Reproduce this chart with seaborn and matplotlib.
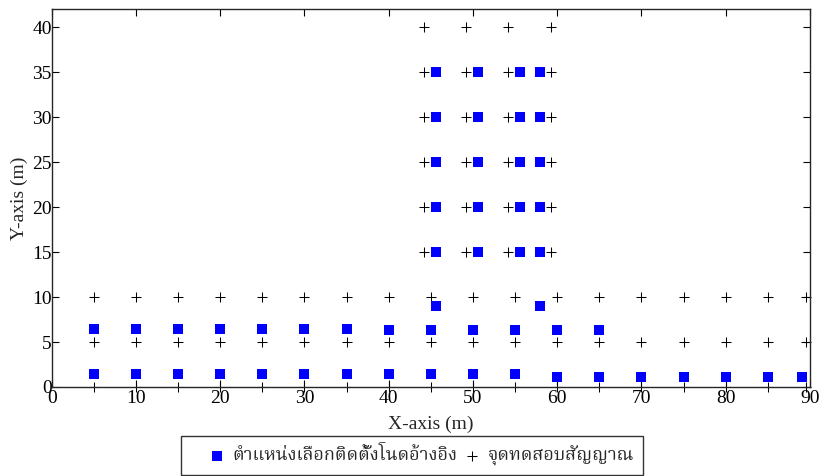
import matplotlib
matplotlib.use("Agg")
import matplotlib.pyplot as plt
import seaborn as sns
import pandas as pd
from matplotlib import font_manager

# ---------------- data ----------------
# selected reference-node positions (blue squares)
node_x = [5, 10, 15, 20, 25, 30, 35, 40, 45, 50, 55,
          60, 65, 70, 75, 80, 85, 89,
          5, 10, 15, 20, 25, 30, 35, 40, 45, 50, 55, 60, 65,
          45.6, 58.0,
          45.6, 50.6, 55.6, 58.0,
          45.6, 50.6, 55.6, 58.0,
          45.6, 50.6, 55.6, 58.0,
          45.6, 50.6, 55.6, 58.0,
          45.6, 50.6, 55.6, 58.0]
node_y = [1.4, 1.4, 1.4, 1.4, 1.4, 1.4, 1.4, 1.4, 1.4, 1.4, 1.4,
          1.1, 1.1, 1.1, 1.1, 1.1, 1.1, 1.1,
          6.4, 6.4, 6.4, 6.4, 6.4, 6.4, 6.4, 6.3, 6.3, 6.3, 6.3, 6.3, 6.3,
          9.0, 9.0,
          15, 15, 15, 15,
          20, 20, 20, 20,
          25, 25, 25, 25,
          30, 30, 30, 30,
          35, 35, 35, 35]

# signal test points (plus markers)
row_x = [5, 10, 15, 20, 25, 30, 35, 40, 45, 50, 55, 60, 65, 70, 75, 80, 85, 89.5]
row_y = [0, 5, 10]
col_x = [44.2, 49.2, 54.2, 59.3]
col_y = [15, 20, 25, 30, 35, 40]

test_x = [x for y in row_y for x in row_x] + [x for y in col_y for x in col_x]
test_y = [y for y in row_y for x in row_x] + [y for y in col_y for x in col_x]

label_nodes = "ตำแหน่งเลือกติดตั้งโนดอ้างอิง"
label_test = "จุดทดสอบสัญญาณ"
x_ticks = [0, 10, 20, 30, 40, 50, 60, 70, 80, 90]
y_ticks = [0, 5, 10, 15, 20, 25, 30, 35, 40]

nodes = pd.DataFrame({"x": node_x, "y": node_y})
tests = pd.DataFrame({"x": test_x, "y": test_y})

# ---------------- fonts ----------------
sns.set_style("ticks")

def find_thai_font():
    try:
        from fontTools.ttLib import TTFont
    except Exception:
        return None
    best = None
    for f in font_manager.fontManager.ttflist:
        try:
            tt = TTFont(f.fname, fontNumber=0, lazy=True)
            cmap = tt.getBestCmap()
            if cmap and ord("ต") in cmap and ord("ญ") in cmap:
                name = f.name
                if best is None or "Serif" in name:
                    best = name
        except Exception:
            continue
    return best

thai = find_thai_font()
fam = ["Liberation Serif"] + ([thai] if thai else []) + ["DejaVu Sans"]
plt.rcParams["font.family"] = fam

fig = plt.figure(figsize=(8.27, 4.76), dpi=100)
ax = fig.add_axes([0.0625, 0.187, 0.9169, 0.7935])

sns.scatterplot(data=tests, x="x", y="y", marker="+", color="black",
                s=45, linewidth=0.75, ax=ax, label=label_test, zorder=2,
                clip_on=False)
sns.scatterplot(data=nodes, x="x", y="y", marker="s", color="#0000ff",
                s=45, linewidth=0, ax=ax, label=label_nodes, zorder=3)

ax.set_xlim(0, 90)
ax.set_ylim(0, 42)
ax.set_xticks(x_ticks)
ax.set_yticks(y_ticks)
ax.tick_params(direction="in", top=True, right=True, length=5, width=0.8,
               labelsize=14, colors="black")
ax.tick_params(axis="x", pad=2.5)
ax.tick_params(axis="y", pad=0)
for sp in ax.spines.values():
    sp.set_linewidth(1.0)
    sp.set_visible(True)
ax.set_xlabel("X-axis (m)", fontsize=14, labelpad=6)
ax.set_ylabel("Y-axis (m)", fontsize=14, labelpad=3)

ax.get_legend().remove()
h, l = ax.get_legend_handles_labels()
order = [l.index(label_nodes), l.index(label_test)]
leg = fig.legend([h[i] for i in order], [l[i] for i in order],
                 loc="center", bbox_to_anchor=(0.498, 0.043), ncol=2,
                 frameon=True, fancybox=False, edgecolor="black",
                 fontsize=13, handletextpad=-0.6, columnspacing=-0.75,
                 borderpad=0.5, handlelength=3.0, scatterpoints=1)
leg.get_frame().set_linewidth(1.0)

fig.savefig("out.png", dpi=100)
